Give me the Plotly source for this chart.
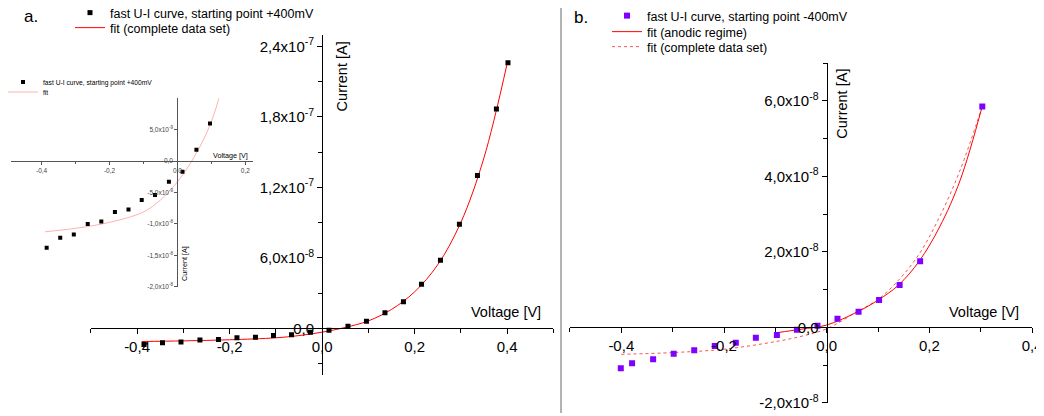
import plotly.graph_objects as go

# ---------------- data ----------------
# panel a: fast U-I curve, starting point +400mV
a_voltage = [-0.385, -0.345, -0.305, -0.264, -0.224, -0.184, -0.144, -0.105, -0.066, -0.025,
             0.015, 0.056, 0.096, 0.136, 0.176, 0.215, 0.256, 0.297, 0.336, 0.377, 0.402]
a_current = [-1.38e-8, -1.22e-8, -1.17e-8, -1.00e-8, -0.96e-8, -0.81e-8, -0.77e-8, -0.62e-8,
             -0.54e-8, -0.33e-8, -0.17e-8, 0.18e-8, 0.60e-8, 1.33e-8, 2.26e-8, 3.74e-8,
             5.79e-8, 8.85e-8, 1.30e-7, 1.866e-7, 2.26e-7]
# fit (complete data set), panel a
a_fit_voltage = [-0.39, -0.30, -0.20, -0.10, -0.05, 0.0, 0.05, 0.10, 0.15, 0.20, 0.25, 0.30, 0.35, 0.40]
a_fit_current = [-1.126e-8, -1.07e-8, -0.976e-8, -0.81e-8, -0.62e-8, -0.33e-8, 0.07e-8, 0.63e-8,
                 1.6e-8, 3.1e-8, 5.4e-8, 9.0e-8, 1.45e-7, 2.25e-7]

# panel b: fast U-I curve, starting point -400mV
b_voltage = [-0.401, -0.379, -0.338, -0.298, -0.258, -0.218, -0.177, -0.138, -0.097, -0.058,
             -0.018, 0.021, 0.062, 0.102, 0.142, 0.182, 0.303]
b_current = [-1.086e-8, -0.954e-8, -0.848e-8, -0.70e-8, -0.61e-8, -0.495e-8, -0.408e-8, -0.275e-8,
             -0.204e-8, -0.064e-8, 0.042e-8, 0.228e-8, 0.413e-8, 0.723e-8, 1.12e-8, 1.75e-8, 5.85e-8]
# fit (anodic regime)
b_fit_anodic_voltage = [-0.097, -0.05, 0.0, 0.06, 0.10, 0.14, 0.18, 0.22, 0.26, 0.303]
b_fit_anodic_current = [-0.143e-8, -0.05e-8, 0.06e-8, 0.41e-8, 0.72e-8, 1.12e-8, 1.75e-8,
                        2.66e-8, 3.9e-8, 5.86e-8]
# fit (complete data set)
b_fit_full_voltage = [-0.40, -0.30, -0.20, -0.10, -0.05, 0.0, 0.06, 0.10, 0.14, 0.18, 0.22, 0.26, 0.303]
b_fit_full_current = [-0.715e-8, -0.67e-8, -0.58e-8, -0.38e-8, -0.24e-8, -0.04e-8, 0.42e-8,
                      0.74e-8, 1.25e-8, 1.94e-8, 2.93e-8, 4.17e-8, 5.86e-8]

# tick labels
v_tick_vals = [-0.4, -0.2, 0.0, 0.2, 0.4]
v_tick_text = ["-0,4", "-0,2", "0,0", "0,2", "0,4"]
v_minor_vals = [-0.5, -0.3, -0.1, 0.1, 0.3, 0.5]
inset_v_tick_vals = [-0.4, -0.2, 0.0, 0.2]
inset_v_tick_text = ["-0,4", "-0,2", "0,0", "0,2"]
inset_v_minor_vals = [-0.3, -0.1, 0.1]

a_i_tick_vals = [0.0, 6e-8, 1.2e-7, 1.8e-7, 2.4e-7]
a_i_tick_text = ["0,0", "6,0x10<sup>-8</sup>", "1,2x10<sup>-7</sup>", "1,8x10<sup>-7</sup>", "2,4x10<sup>-7</sup>"]
a_i_minor_vals = [-3e-8, 3e-8, 9e-8, 1.5e-7, 2.1e-7]

inset_i_tick_vals = [5e-9, 0.0, -5e-9, -1e-8, -1.5e-8, -2e-8]
inset_i_tick_text = ["5,0x10<sup>-9</sup>", "0,0", "-5,0x10<sup>-9</sup>", "-1,0x10<sup>-8</sup>",
                     "-1,5x10<sup>-8</sup>", "-2,0x10<sup>-8</sup>"]

b_i_tick_vals = [-2e-8, 0.0, 2e-8, 4e-8, 6e-8]
b_i_tick_text = ["-2,0x10<sup>-8</sup>", "0,0", "2,0x10<sup>-8</sup>", "4,0x10<sup>-8</sup>", "6,0x10<sup>-8</sup>"]
b_i_minor_vals = [-1e-8, 1e-8, 3e-8, 5e-8, 7e-8]

# ---------------- layout helpers ----------------
W, H = 1044, 416
PAGE_OFFSET = 8  # default body margin of the html page
FONT = "Liberation Sans, Arial, sans-serif"


def px(x):
    return (x - PAGE_OFFSET) / W


def py(y):
    return 1 - (y - PAGE_OFFSET) / H


fig = go.Figure()

# panel a
fig.add_trace(go.Scatter(x=a_fit_voltage, y=a_fit_current, mode="lines", xaxis="x", yaxis="y",
                         line=dict(color="#FF0000", width=1, shape="spline"),
                         name="fit (complete data set)", legend="legend2"))
fig.add_trace(go.Scatter(x=a_voltage, y=a_current, mode="markers", xaxis="x", yaxis="y",
                         marker=dict(symbol="square", size=5, color="#000000"),
                         name="fast U-I curve, starting point +400mV", legend="legend"))
# inset
fig.add_trace(go.Scatter(x=a_fit_voltage, y=a_fit_current, mode="lines", xaxis="x2", yaxis="y2",
                         line=dict(color="#FFB0B0", width=1, shape="spline"),
                         name="fit", legend="legend4"))
fig.add_trace(go.Scatter(x=a_voltage, y=a_current, mode="markers", xaxis="x2", yaxis="y2",
                         marker=dict(symbol="square", size=4, color="#000000"),
                         name="fast U-I curve, starting point +400mV", legend="legend3"))
# panel b
fig.add_trace(go.Scatter(x=b_fit_full_voltage, y=b_fit_full_current, mode="lines", xaxis="x3", yaxis="y3",
                         line=dict(color="#FF5050", width=1, dash="dot", shape="spline"),
                         name="fit (complete data set)", legend="legend7"))
fig.add_trace(go.Scatter(x=b_fit_anodic_voltage, y=b_fit_anodic_current, mode="lines", xaxis="x3", yaxis="y3",
                         line=dict(color="#FF0000", width=1, shape="spline"),
                         name="fit (anodic regime)", legend="legend6"))
fig.add_trace(go.Scatter(x=b_voltage, y=b_current, mode="markers", xaxis="x3", yaxis="y3",
                         marker=dict(symbol="square", size=6, color="#8000FF"),
                         name="fast U-I curve, starting point -400mV", legend="legend5"))

main_tick_font = dict(family=FONT, size=15, color="#000000")
inset_tick_font = dict(family=FONT, size=6.5, color="#444444")

# axis geometry (pixel positions of the panels)
a_x_dom = [px(90.8), px(553.3)]
a_y_dom = [py(375.3), py(34.55)]
a_yaxis_pos = px(322.3)
a_xaxis_pos = py(328.3)

in_x_dom = [px(11), px(253.3)]
in_y_dom = [py(286.7), py(98.3)]
in_yaxis_pos = px(177.3)
in_xaxis_pos = py(161)

b_x_dom = [px(569.95), px(1032.1)]
b_y_dom = [py(402.8), py(63.05)]
b_yaxis_pos = px(826.7)
b_xaxis_pos = py(327.3)


def axis(dom, rng, pos, vals, text, minor, font, color, lw, tl):
    return dict(domain=dom, range=rng, anchor="free", position=pos, showgrid=False, zeroline=False,
                showline=True, linecolor=color, linewidth=lw, ticks="outside", ticklen=tl, tickwidth=lw,
                tickcolor=color, tickvals=vals, ticktext=text, tickfont=font,
                minor=dict(tickvals=minor, ticks="outside", ticklen=tl - 1, tickwidth=lw, tickcolor=color))


fig.update_layout(
    width=W, height=H, margin=dict(l=0, r=0, t=0, b=0, autoexpand=False),
    paper_bgcolor="white", plot_bgcolor="rgba(0,0,0,0)",
    font=dict(family=FONT, size=12, color="#000000"),
    xaxis=axis(a_x_dom, [-0.5, 0.5], a_xaxis_pos, v_tick_vals, v_tick_text, v_minor_vals,
               main_tick_font, "#000000", 1.3, 5),
    yaxis=axis(a_y_dom, [-4e-8, 2.5e-7], a_yaxis_pos, a_i_tick_vals, a_i_tick_text, a_i_minor_vals,
               main_tick_font, "#000000", 1.3, 5),
    xaxis2=axis(in_x_dom, [-0.49, 0.2235], in_xaxis_pos, inset_v_tick_vals, inset_v_tick_text,
                inset_v_minor_vals, inset_tick_font, "#555555", 1, 3),
    yaxis2=axis(in_y_dom, [-2e-8, 1e-8], in_yaxis_pos, inset_i_tick_vals, inset_i_tick_text, [],
                inset_tick_font, "#555555", 1, 3),
    xaxis3=axis(b_x_dom, [-0.5, 0.4], b_xaxis_pos, v_tick_vals, v_tick_text, v_minor_vals[:-1],
                main_tick_font, "#000000", 1.3, 5),
    yaxis3=axis(b_y_dom, [-2e-8, 7e-8], b_yaxis_pos, b_i_tick_vals, b_i_tick_text, b_i_minor_vals,
                main_tick_font, "#000000", 1.3, 5),
)


def leg(x_left, yc, size):
    return dict(x=px(x_left), y=py(yc), xanchor="left", yanchor="middle", bgcolor="rgba(0,0,0,0)",
                font=dict(family=FONT, size=size, color="#000000"), borderwidth=0, itemwidth=30)


fig.update_layout(
    showlegend=True,
    legend=leg(70, 13, 12.5), legend2=leg(70, 28, 12.5),
    legend3=leg(3, 82, 6.7), legend4=leg(3, 92, 6.7),
    legend5=leg(607, 16, 12.5), legend6=leg(607, 32, 12.5), legend7=leg(607, 47, 12.5),
)

ann = [
    dict(text="a.", x=px(31), y=py(16), size=17, angle=0),
    dict(text="b.", x=px(581), y=py(17), size=17, angle=0),
    dict(text="Voltage [V]", x=px(506), y=py(311.7), size=14.5, angle=0),
    dict(text="Current [A]", x=px(341.7), y=py(76.7), size=14.5, angle=-90),
    dict(text="Voltage [V]", x=px(984), y=py(311.7), size=14.5, angle=0),
    dict(text="Current [A]", x=px(841.7), y=py(104), size=14.5, angle=-90),
    dict(text="Voltage [V]", x=px(230.3), y=py(155), size=7.2, angle=0),
    dict(text="Current [A]", x=px(184), y=py(264), size=7.2, angle=-90),
]
for a in ann:
    fig.add_annotation(text=a["text"], x=a["x"], y=a["y"], xref="paper", yref="paper",
                       xanchor="center", yanchor="middle", showarrow=False, textangle=a["angle"],
                       font=dict(family=FONT, size=a["size"], color="#000000"))

# divider between the two panels
fig.add_shape(type="line", xref="paper", yref="paper", x0=px(561), x1=px(561), y0=py(413), y1=1,
              line=dict(color="#666666", width=1))

fig.write_html("out.html")
